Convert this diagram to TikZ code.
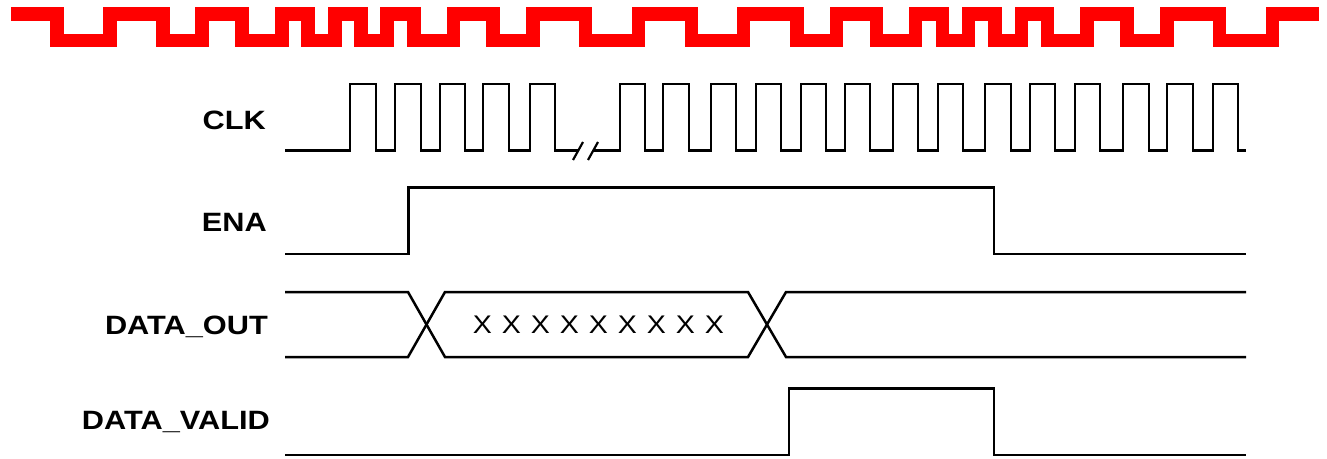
\documentclass[tikz,border=0pt]{standalone}
\usepackage{fontspec}
\usepackage{graphicx}
\setmainfont{Liberation Sans}
\begin{document}
\begin{tikzpicture}[x=1pt,y=-1pt,
  sig/.style={line width=2.5pt, line join=miter},
  redwave/.style={draw=red, line width=13.3pt, line join=miter, line cap=butt},
  lbl/.style={anchor=base east, inner sep=0pt, font=\fontsize{26.5pt}{31pt}\selectfont\bfseries},
  xmark/.style={anchor=base, inner sep=0pt, font=\fontsize{25.5pt}{30pt}\selectfont}]
\useasboundingbox (0,0) rectangle (1327,458);
% red clock band
\draw[redwave] (11,14)
  \foreach \a/\b in {57/40.7,110/14,163/40.7,202/14,242/40.7,282/14,308/40.7,335/14,361/40.7,387/14,414/40.7,453.7/14,493/40.7,533/14,585.7/40.7,638.3/14,691.7/40.7,743.7/14,797/40.7,836.3/14,876.3/40.7,915.7/14,942.3/40.7,968.3/14,995/40.7,1021.7/14,1047.7/40.7,1087/14,1127/40.7,1167/14,1219.7/40.7,1272.3/14}{ -| (\a,\b) } -- (1319,14);
% labels
\node[lbl] (lclk) at (266,129.5) {\scalebox{1.16}[1]{CLK}};
\node[lbl] (lena) at (267,231.5) {\scalebox{1.16}[1]{ENA}};
\node[lbl] (ldo) at (268,334.5) {\scalebox{1.16}[1]{DATA\_OUT}};
\node[lbl] (ldv) at (270,429.5) {\scalebox{1.16}[1]{DATA\_VALID}};
% CLK
\draw[sig] (285,150.7)
  \foreach \r/\f in {350/376,395/421,440/465,483/509,530/555}{ -| (\r,84) -| (\f,150.7) } -- (578,150.7);
\draw[sig] (593,150.7)
  \foreach \r/\f in {620/645,663/689,711/736,756/781,801/826,845/870,893/918,938/963,985/1011,1030/1055,1075/1100,1123/1149,1167/1193,1213/1238}{ -| (\r,84) -| (\f,150.7) } -- (1246,150.7);
\draw[line width=2.2pt] (573,160) -- (583,142);
\draw[line width=2.2pt] (588,160) -- (598,142);
% ENA
\draw[sig] (285,254) -| (408.7,187.3) -| (994,254) -- (1246,254);
% DATA_OUT
\draw[sig] (285,292) -- (408,292) -- (445,357) -- (748,357) -- (786,292) -- (1246,292);
\draw[sig] (285,357) -- (408,357) -- (445,292) -- (748,292) -- (786,357) -- (1246,357);
\foreach \i in {0,...,8}{
  \node[xmark] (x\i) at (482.5+29*\i,333.5) {\scalebox{1.12}[1]{X}};
}
% DATA_VALID
\draw[sig] (285,455) -| (789,388.7) -| (994,455) -- (1246,455);
\end{tikzpicture}
\end{document}
